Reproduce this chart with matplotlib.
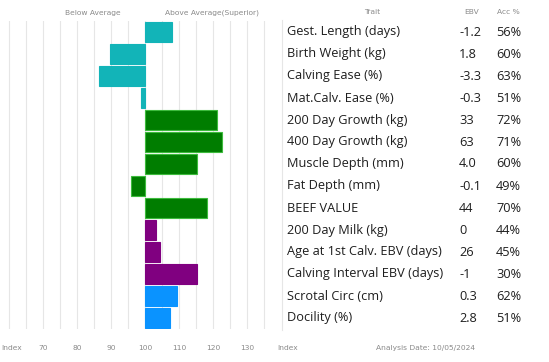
import matplotlib
matplotlib.use("Agg")
import matplotlib.pyplot as plt

traits = ["Gest. Length (days)", "Birth Weight (kg)", "Calving Ease (%)", "Mat.Calv. Ease (%)",
          "200 Day Growth (kg)", "400 Day Growth (kg)", "Muscle Depth (mm)", "Fat Depth (mm)",
          "BEEF VALUE", "200 Day Milk (kg)", "Age at 1st Calv. EBV (days)",
          "Calving Interval EBV (days)", "Scrotal Circ (cm)", "Docility (%)"]
ebv = ["-1.2", "1.8", "-3.3", "-0.3", "33", "63", "4.0", "-0.1", "44", "0", "26", "-1", "0.3", "2.8"]
acc = ["56%", "60%", "63%", "51%", "72%", "71%", "60%", "49%", "70%", "44%", "45%", "30%", "62%", "51%"]
index = [108, 89.6, 86.6, 98.8, 121.3, 122.6, 115.3, 96, 118.3, 103.3, 104.3, 115.3, 109.5, 107.3]
groups = ["calving"] * 4 + ["growth"] * 5 + ["fertility"] * 3 + ["other"] * 2
ticks = [70, 80, 90, 100, 110, 120, 130]

colors = {"calving": "#12b4b8", "growth": "#007d00", "fertility": "#800080", "other": "#0a93ff"}
edges = {"calving": "#12b4b8", "growth": "#3dbb3d", "fertility": "#800080", "other": "#0a93ff"}

W, H = 549, 362
fig = plt.figure(figsize=(W / 100, H / 100), dpi=100)

# bar panel, 100 sits at x=145px, 3.4 px per index point
ppu = 3.4
ax_w = 274
ax = fig.add_axes([0, 1 - 329 / H, ax_w / W, 308 / H])
ax.set_xlim(100 - 145 / ppu, 100 + (ax_w - 145) / ppu)
ax.set_ylim(len(traits) - 0.5, -0.5)
for v in range(60, 140, 5):
    ax.axvline(v, color="#e6e6e6", lw=0.8, zorder=0)
for i, (val, g) in enumerate(zip(index, groups)):
    ax.barh(i, val - 100, left=100, height=0.91, color=colors[g],
            edgecolor=edges[g], linewidth=0.8, zorder=2)
ax.axis("off")

def px(x, y):
    return x / W, 1 - y / H

small = dict(fontsize=5.4, color="#8a8a8a", family="DejaVu Sans", va="center")
fig.text(*px(93, 13), "Below Average", ha="center", **small)
fig.text(*px(212, 13), "Above Average(Superior)", ha="center", **small)
fig.text(*px(372, 12), "Trait", ha="center", **small)
fig.text(*px(472, 12), "EBV", ha="center", **small)
fig.text(*px(508, 12), "Acc %", ha="center", **small)

fig.text(*px(1, 348), "Index", ha="left", **small)
for t in ticks:
    xpix = 145 + (t - 100) * ppu
    fig.text(*px(xpix, 348), str(t), ha="center", **small)
fig.text(*px(288, 348), "Index", ha="center", **small)
fig.text(*px(425, 348), "Analysis Date: 10/05/2024", ha="center", **small)

# separator between bars and table
fig.add_artist(plt.Line2D([282 / W, 282 / W], [1 - 20 / H, 1 - 330 / H],
                          color="#e6e6e6", lw=0.8))

big = dict(fontsize=9.2, color="#1e1e1e", family="Open Sans", va="center")
for i in range(len(traits)):
    y = 32 + 22 * i
    fig.text(*px(287, y), traits[i], ha="left", **big)
    fig.text(*px(459, y), ebv[i], ha="left", **big)
    fig.text(*px(496, y), acc[i], ha="left", **big)

fig.savefig("out.png", dpi=100)
